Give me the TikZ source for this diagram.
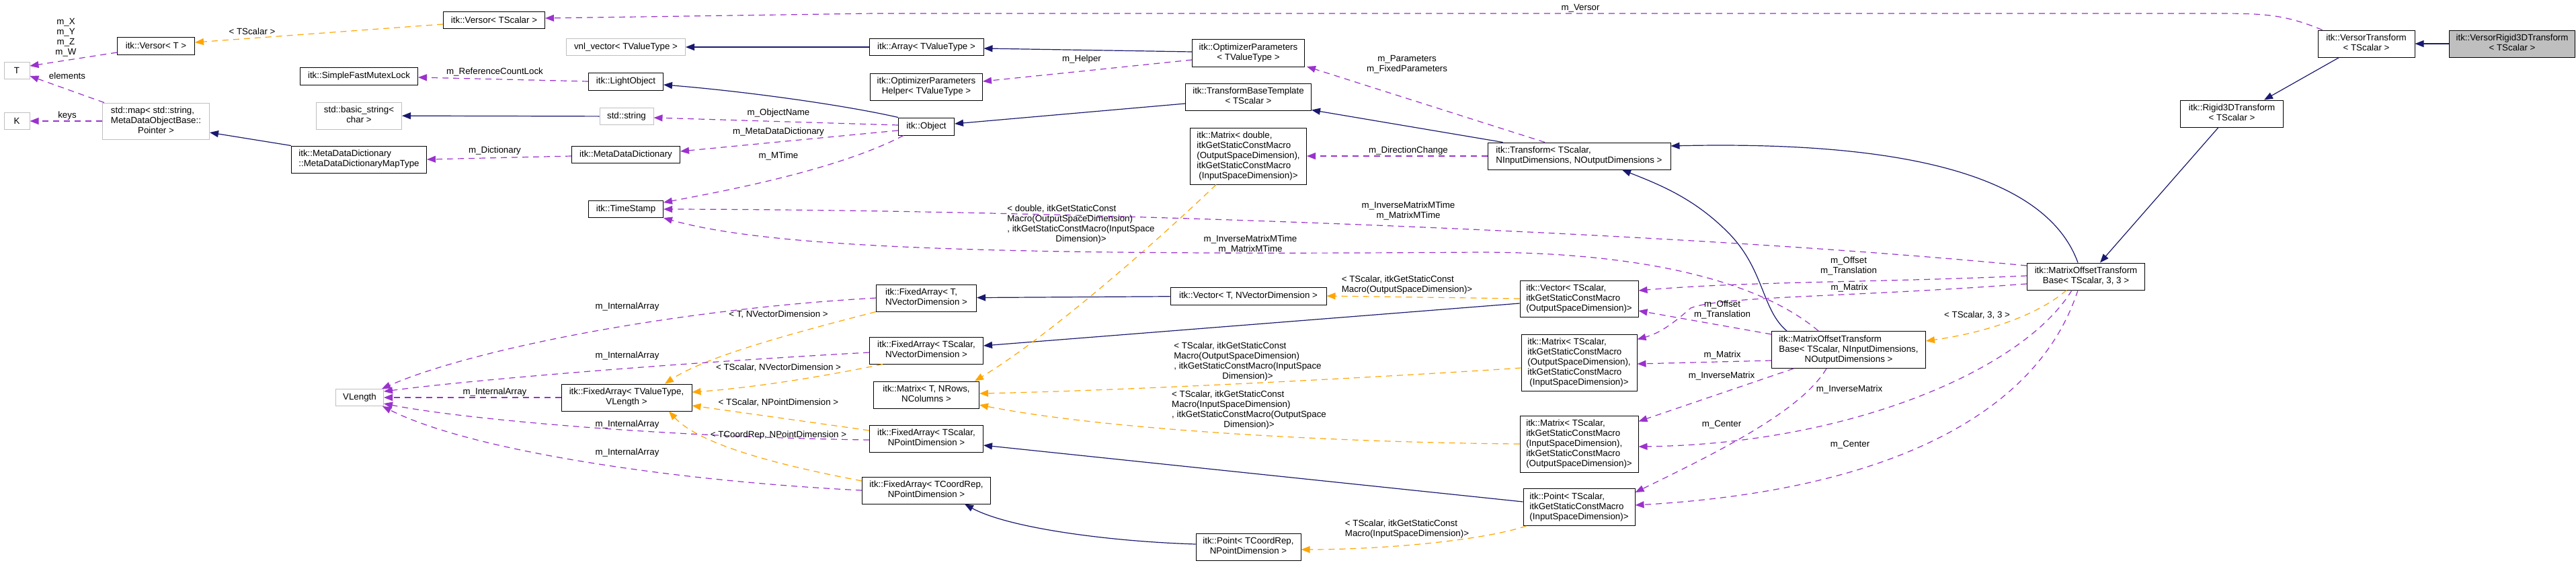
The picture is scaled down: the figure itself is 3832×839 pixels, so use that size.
\documentclass[tikz,border=0pt]{standalone}
\usepackage{fontspec}
\setmainfont{Liberation Sans}
\usepackage{xcolor}
\usepackage{tikz}
\usetikzlibrary{
    arrows.meta,
    positioning,
    calc
}
\definecolor{inheritblue}{HTML}{191970}
\definecolor{usepurple}{HTML}{9A32CD}
\definecolor{tmplorange}{HTML}{FFA500}
\definecolor{boxgray}{HTML}{BFBFBF}
\newcommand{\dotfont}{\fontsize{13.33}{15}\selectfont}
% all lines flush left, the last one centred
\newcommand{\splitlbl}[2]{\begin{tabular}{@{}l@{}}#1\\\multicolumn{1}{@{}c@{}}{#2}\end{tabular}}
\tikzset{
    classbox/.style={
        rectangle, draw=black, fill=white, line width=1pt,
        inner xsep=2pt, inner ysep=1pt, minimum height=25pt,
        font=\dotfont
    },
    extclass/.style={
        classbox, draw=boxgray
    },
    focusclass/.style={
        classbox, fill=boxgray
    },
    edge label/.style={
        font=\dotfont, inner sep=0pt, align=center
    },
    inherits/.style={
        -{Triangle[length=13pt, width=10pt]}, line width=1.2pt, color=inheritblue
    },
    uses/.style={
        -{Triangle[length=13pt, width=10pt]}, line width=1.2pt, color=usepurple,
        dash pattern=on 9pt off 7pt
    },
    instance/.style={
        -{Triangle[length=13pt, width=10pt]}, line width=1.2pt, color=tmplorange,
        dash pattern=on 9pt off 7pt
    },
}

\begin{document}
\begin{tikzpicture}[x=1pt, y=-1pt]

    \fill[white] (0,0) rectangle (3832,839);
    \useasboundingbox (0,0) rectangle (3832,839);

    % ── Template parameters ──
    \node[extclass, minimum width=38pt] (Tparam) at (25,105) {T};
    \node[extclass, minimum width=38pt] (Kparam) at (25,180) {K};

    % ── Column 2 ──
    \node[classbox, minimum width=115pt, minimum height=26pt] (versorT) at (232,68) {itk::Versor< T >};
    \node[extclass, minimum width=159pt, minimum height=54pt] (stdmap) at (232,180)
        {\splitlbl{std::map< std::string,\\ MetaDataObjectBase::}{Pointer >}};

    % ── Column 3 ──
    \node[classbox, minimum width=175pt, minimum height=26pt] (mutexlock) at (534,113) {itk::SimpleFastMutexLock};
    \node[extclass, minimum width=127pt, minimum height=40pt] (basicstr) at (534,172)
        {\splitlbl{std::basic\_string<}{char >}};
    \node[classbox, minimum width=201pt, minimum height=40pt] (maptype) at (534,237)
        {\splitlbl{itk::MetaDataDictionary}{::MetaDataDictionaryMapType}};
    \node[extclass, minimum width=71pt] (vlength) at (535,591) {VLength};

    % ── Column 4 ──
    \node[classbox, minimum width=151pt] (versorTS) at (735,30) {itk::Versor< TScalar >};
    \node[extclass, minimum width=177pt] (vnlvec) at (931,70) {vnl\_vector< TValueType >};
    \node[classbox, minimum width=111pt, minimum height=26pt] (lightobj) at (931,121) {itk::LightObject};
    \node[extclass, minimum width=80pt] (stdstring) at (932,173) {std::string};
    \node[classbox, minimum width=161pt] (metadict) at (931,230) {itk::MetaDataDictionary};
    \node[classbox, minimum width=111pt] (timestamp) at (931,311) {itk::TimeStamp};
    \node[classbox, minimum width=194pt, minimum height=40pt] (fixedTV) at (932,591)
        {\splitlbl{itk::FixedArray< TValueType,}{VLength >}};

    % ── Column 5 ──
    \node[classbox, minimum width=170pt] (array) at (1378,70) {itk::Array< TValueType >};
    \node[classbox, minimum width=167pt, minimum height=40pt] (opthelper) at (1378,129)
        {\splitlbl{itk::OptimizerParameters}{Helper< TValueType >}};
    \node[classbox, minimum width=83pt, minimum height=26pt] (object) at (1378,188) {itk::Object};
    \node[classbox, minimum width=149pt, minimum height=40pt] (fixedTNV) at (1378,443)
        {\splitlbl{itk::FixedArray< T,}{NVectorDimension >}};
    \node[classbox, minimum width=169pt, minimum height=40pt] (fixedSNV) at (1378,521)
        {\splitlbl{itk::FixedArray< TScalar,}{NVectorDimension >}};
    \node[classbox, minimum width=157pt, minimum height=40pt] (matrixT) at (1378,587)
        {\splitlbl{itk::Matrix< T, NRows,}{NColumns >}};
    \node[classbox, minimum width=169pt, minimum height=40pt] (fixedSNP) at (1378,652)
        {\splitlbl{itk::FixedArray< TScalar,}{NPointDimension >}};
    \node[classbox, minimum width=191pt, minimum height=40pt] (fixedCNP) at (1378,729)
        {\splitlbl{itk::FixedArray< TCoordRep,}{NPointDimension >}};

    % ── Column 6 ──
    \node[classbox, minimum width=167pt, minimum height=41pt] (optparams) at (1857,79)
        {\splitlbl{itk::OptimizerParameters}{< TValueType >}};
    \node[classbox, minimum width=187pt, minimum height=40pt] (tbtemplate) at (1857,144)
        {\splitlbl{itk::TransformBaseTemplate}{< TScalar >}};
    \node[classbox, minimum width=173pt, minimum height=84pt] (matrixD) at (1857,232)
        {\splitlbl{itk::Matrix< double,\\ itkGetStaticConstMacro\\(OutputSpaceDimension),\\ itkGetStaticConstMacro}{(InputSpaceDimension)>}};
    \node[classbox, minimum width=232pt, minimum height=26pt] (vectorT) at (1857,440) {itk::Vector< T, NVectorDimension >};
    \node[classbox, minimum width=156pt, minimum height=40pt] (pointC) at (1857,813)
        {\splitlbl{itk::Point< TCoordRep,}{NPointDimension >}};

    % ── Column 7 ──
    \node[classbox, minimum width=272pt, minimum height=40pt] (transform) at (2349,232)
        {\splitlbl{itk::Transform< TScalar,}{NInputDimensions, NOutputDimensions >}};
    \node[classbox, minimum width=176pt, minimum height=54pt] (vectorS) at (2349,444)
        {\splitlbl{itk::Vector< TScalar,\\ itkGetStaticConstMacro}{(OutputSpaceDimension)>}};
    \node[classbox, minimum width=172pt, minimum height=84pt] (matrixSOI) at (2349,539)
        {\splitlbl{itk::Matrix< TScalar,\\ itkGetStaticConstMacro\\(OutputSpaceDimension),\\ itkGetStaticConstMacro}{(InputSpaceDimension)>}};
    \node[classbox, minimum width=176pt, minimum height=84pt] (matrixSIO) at (2349,660)
        {\splitlbl{itk::Matrix< TScalar,\\ itkGetStaticConstMacro\\(InputSpaceDimension),\\ itkGetStaticConstMacro}{(OutputSpaceDimension)>}};
    \node[classbox, minimum width=166pt, minimum height=55pt] (pointS) at (2349,754)
        {\splitlbl{itk::Point< TScalar,\\ itkGetStaticConstMacro}{(InputSpaceDimension)>}};

    % ── Transform chain ──
    \node[classbox, minimum width=229pt, minimum height=55pt] (motb) at (2750,520)
        {\splitlbl{itk::MatrixOffsetTransform\\Base< TScalar, NInputDimensions,}{NOutputDimensions >}};
    \node[classbox, minimum width=175pt, minimum height=40pt] (motb33) at (3103,411)
        {\splitlbl{itk::MatrixOffsetTransform}{Base< TScalar, 3, 3 >}};
    \node[classbox, minimum width=153pt, minimum height=40pt] (rigid3d) at (3320,169)
        {\splitlbl{itk::Rigid3DTransform}{< TScalar >}};
    \node[classbox, minimum width=144pt, minimum height=40pt] (versortr) at (3520,65)
        {\splitlbl{itk::VersorTransform}{< TScalar >}};
    \node[focusclass, minimum width=187pt, minimum height=40pt] (versorrigid) at (3737,65)
        {\splitlbl{itk::VersorRigid3DTransform}{< TScalar >}};

    % ── Inheritance ──
    \draw[inherits] (versorrigid) -- (versortr);
    \draw[inherits] ([xshift=32pt]versortr.south west) -- ([xshift=48pt]rigid3d.north);
    \draw[inherits] ([xshift=-20pt]rigid3d.south) -- ([xshift=21pt]motb33.north);
    \draw[inherits] ([xshift=-12pt]motb33.north) .. controls (3040,250) and (2800,210) .. ([yshift=15pt]transform.east);
    \draw[inherits] ([xshift=23pt]motb.north west) .. controls (2620,460) and (2625,400) .. (2570,345)
        .. controls (2520,295) and (2470,275) .. ([xshift=64pt]transform.south);
    \draw[inherits] ([xshift=23pt]transform.north west) -- ([yshift=1pt]tbtemplate.south east);
    \draw[inherits] ([yshift=-10pt]tbtemplate.west) -- ([yshift=4pt]object.east);
    \draw[inherits] (object.north west) .. controls (1250,155) and (1100,135) .. ([yshift=-5pt]lightobj.east);
    \draw[inherits] ([yshift=2pt]optparams.west) -- ([yshift=-2pt]array.east);
    \draw[inherits] (array) -- (vnlvec);
    \draw[inherits] (stdstring) -- (basicstr);
    \draw[inherits] (maptype.north west) -- ([yshift=-17pt]stdmap.east);
    \draw[inherits] (vectorT) -- (fixedTNV);
    \draw[inherits] ([yshift=-7pt]vectorS.west) -- ([yshift=7pt]fixedSNV.east);
    \draw[inherits] ([yshift=8pt]pointS.west) -- ([yshift=-10pt]fixedSNP.east);
    \draw[inherits] ([yshift=4pt]pointC.west) .. controls (1650,805) and (1500,785) .. ([xshift=57pt]fixedCNP.south);

    % ── Template instances ──
    \draw[instance] ([yshift=-6pt]versorTS.west) -- ([yshift=5pt]versorT.east);
    \draw[instance] ([xshift=-29pt]motb33.south) .. controls (3030,470) and (2950,495) .. ([yshift=13pt]motb.east);
    \draw[instance] ([xshift=-48pt]matrixD.south) .. controls (1720,360) and (1560,500) .. ([xshift=-7pt]matrixT.north east);
    \draw[instance] ([yshift=-8pt]matrixSOI.west) .. controls (2100,558) and (1700,580) .. ([yshift=2pt]matrixT.east);
    \draw[instance] (matrixSIO.west) .. controls (2000,658) and (1650,640) .. ([yshift=-15pt]matrixT.east);
    \draw[instance] (fixedTNV.south west) .. controls (1180,495) and (1050,530) .. ([xshift=57pt]fixedTV.north);
    \draw[instance] ([xshift=20pt]fixedSNV.south west) .. controls (1200,565) and (1100,578) .. ([yshift=8pt]fixedTV.east);
    \draw[instance] ([yshift=12pt]fixedSNP.west) -- ([yshift=-12pt]fixedTV.east);
    \draw[instance] ([yshift=14pt]fixedCNP.west) .. controls (1150,690) and (1040,660) .. ([xshift=63pt]fixedTV.south);
    \draw[instance] ([xshift=5pt]pointS.south west) .. controls (2200,805) and (2050,817) .. ([yshift=-4pt]pointC.east);
    \draw[instance] (vectorS.west) -- (vectorT.east);

    % ── Members ──
    \draw[uses] ([yshift=-10pt]versorT.west) -- ([yshift=7pt]Tparam.east);
    \draw[uses] ([xshift=3pt]stdmap.north west) -- ([yshift=-8pt]Tparam.east);
    \draw[uses] (stdmap) -- (Kparam);
    \draw[uses] (lightobj.west) -- ([yshift=-2pt]mutexlock.east);
    \draw[uses] ([yshift=-2pt]metadict.west) -- (maptype.east);
    \draw[uses] ([yshift=2pt]object.west) -- ([yshift=-2pt]stdstring.east);
    \draw[uses] ([yshift=-6pt]object.west) -- ([yshift=5pt]metadict.east);
    \draw[uses] ([xshift=8pt]object.south west) .. controls (1250,250) and (1100,280) .. ([yshift=-3pt]timestamp.north east);
    \draw[uses] ([yshift=16pt]motb33.west) .. controls (2500,345) and (1600,312) .. (timestamp.east);
    \draw[uses] ([xshift=-45pt]motb.north) .. controls (2620,420) and (2450,375) .. (2200,375)
        .. controls (1500,380) and (1150,370) .. (timestamp.south east);
    \draw[uses] ([xshift=7pt]versortr.north west) .. controls (3400,22) and (3370,20) .. (3300,20)
        -- (1300,20) -- ([yshift=3pt]versorTS.east);
    \draw[uses] ([yshift=-10pt]optparams.west) -- ([yshift=8pt]opthelper.east);
    \draw[uses] ([xshift=-51pt]transform.north) -- ([xshift=3pt,yshift=1pt]optparams.south east);
    \draw[uses] (transform.west) -- (matrixD.east);
    \draw[uses] ([yshift=1pt]motb33.west) .. controls (2800,420) and (2600,418) .. ([yshift=12pt]vectorS.east);
    \draw[uses] ([yshift=-11pt]motb33.west) .. controls (2750,442) and (2560,440) .. (2515,458)
        .. controls (2490,480) and (2470,495) .. ([yshift=-8pt]matrixSOI.north east);
    \draw[uses] ([yshift=23pt]motb.west) -- ([yshift=-18pt]vectorS.east);
    \draw[uses] ([yshift=-16pt]motb.west) -- ([yshift=-2pt]matrixSOI.east);
    \draw[uses] ([xshift=33pt]motb.south west) -- ([yshift=-9pt]matrixSIO.north east);
    \draw[uses] ([xshift=-21pt]motb33.south) .. controls (3010,550) and (2750,660) .. ([yshift=-4pt]matrixSIO.east);
    \draw[uses] ([xshift=-33pt]motb.south) .. controls (2680,610) and (2560,670) .. ([yshift=-6pt]pointS.north east);
    \draw[uses] ([xshift=-12pt]motb33.south) .. controls (3030,620) and (2800,730) .. ([yshift=3pt]pointS.east);
    \draw[uses] (fixedTV) -- (vlength);
    \draw[uses] (fixedTNV.west) .. controls (1000,460) and (700,520) .. ([xshift=-3pt]vlength.north east);
    \draw[uses] ([yshift=-3pt]fixedSNV.west) .. controls (1000,540) and (700,565) .. ([yshift=9pt]vlength.east);
    \draw[uses] ([yshift=-2pt]fixedSNP.west) .. controls (1000,650) and (700,625) .. ([yshift=-9pt]vlength.east);
    \draw[uses] (fixedCNP.west) .. controls (1000,715) and (700,670) .. ([xshift=-2pt]vlength.south east);

    % ── Edge labels ──
    \node[edge label] (lbl-xyzw) at (98,55.5) {m\_X\\m\_Y\\m\_Z\\m\_W};
    \node[edge label] (lbl-elements) at (100,113) {elements};
    \node[edge label] (lbl-keys) at (100,172) {keys};
    \node[edge label] (lbl-versorT) at (375,47) {< TScalar >};
    \node[edge label] (lbl-refcount) at (736,107) {m\_ReferenceCountLock};
    \node[edge label] (lbl-dictionary) at (736,224) {m\_Dictionary};
    \node[edge label] (lbl-objname) at (1158,168) {m\_ObjectName};
    \node[edge label] (lbl-mdd) at (1158,196) {m\_MetaDataDictionary};
    \node[edge label] (lbl-mtime) at (1158,232) {m\_MTime};
    \node[edge label] (lbl-helper) at (1609,88) {m\_Helper};
    \node[edge label] (lbl-matrixD) at (1608,334)
        {\splitlbl{< double, itkGetStaticConst\\Macro(OutputSpaceDimension)\\, itkGetStaticConstMacro(InputSpace}{Dimension)>}};
    \node[edge label] (lbl-mtimeB) at (1860,363) {m\_InverseMatrixMTime\\m\_MatrixMTime};
    \node[edge label] (lbl-versor) at (2351,12) {m\_Versor};
    \node[edge label] (lbl-params) at (2093,96) {m\_Parameters\\m\_FixedParameters};
    \node[edge label] (lbl-dirchange) at (2095,224) {m\_DirectionChange};
    \node[edge label] (lbl-mtimeA) at (2095,313) {m\_InverseMatrixMTime\\m\_MatrixMTime};
    \node[edge label] (lbl-vectorS) at (2093,423.5)
        {\splitlbl{< TScalar, itkGetStaticConst}{Macro(OutputSpaceDimension)>}};
    \node[edge label] (lbl-pointS) at (2093,787)
        {\splitlbl{< TScalar, itkGetStaticConst}{Macro(InputSpaceDimension)>}};
    \node[edge label] (lbl-fixedTNV) at (1158,468) {< T, NVectorDimension >};
    \node[edge label] (lbl-fixedSNV) at (1158,547) {< TScalar, NVectorDimension >};
    \node[edge label] (lbl-fixedSNP) at (1158,599) {< TScalar, NPointDimension >};
    \node[edge label] (lbl-fixedCNP) at (1158,647) {< TCoordRep, NPointDimension >};
    \node[edge label] (lbl-arrTNV) at (933,456) {m\_InternalArray};
    \node[edge label] (lbl-arrSNV) at (933,529) {m\_InternalArray};
    \node[edge label] (lbl-arrTV) at (736,583) {m\_InternalArray};
    \node[edge label] (lbl-arrSNP) at (933,631) {m\_InternalArray};
    \node[edge label] (lbl-arrCNP) at (933,673) {m\_InternalArray};
    \node[edge label] (lbl-matrixSOI) at (1856,537.5)
        {\splitlbl{< TScalar, itkGetStaticConst\\Macro(OutputSpaceDimension)\\, itkGetStaticConstMacro(InputSpace}{Dimension)>}};
    \node[edge label] (lbl-matrixSIO) at (1858,610)
        {\splitlbl{< TScalar, itkGetStaticConst\\Macro(InputSpaceDimension)\\, itkGetStaticConstMacro(OutputSpace}{Dimension)>}};
    \node[edge label] (lbl-offsetA) at (2750,395) {m\_Offset\\m\_Translation};
    \node[edge label] (lbl-offsetB) at (2562,460) {m\_Offset\\m\_Translation};
    \node[edge label] (lbl-matrixA) at (2751,428) {m\_Matrix};
    \node[edge label] (lbl-matrixB) at (2562,528) {m\_Matrix};
    \node[edge label] (lbl-motb) at (2941,469) {< TScalar, 3, 3 >};
    \node[edge label] (lbl-invB) at (2561,559) {m\_InverseMatrix};
    \node[edge label] (lbl-invA) at (2751,579) {m\_InverseMatrix};
    \node[edge label] (lbl-centerB) at (2561,631) {m\_Center};
    \node[edge label] (lbl-centerA) at (2752,661) {m\_Center};

\end{tikzpicture}
\end{document}
